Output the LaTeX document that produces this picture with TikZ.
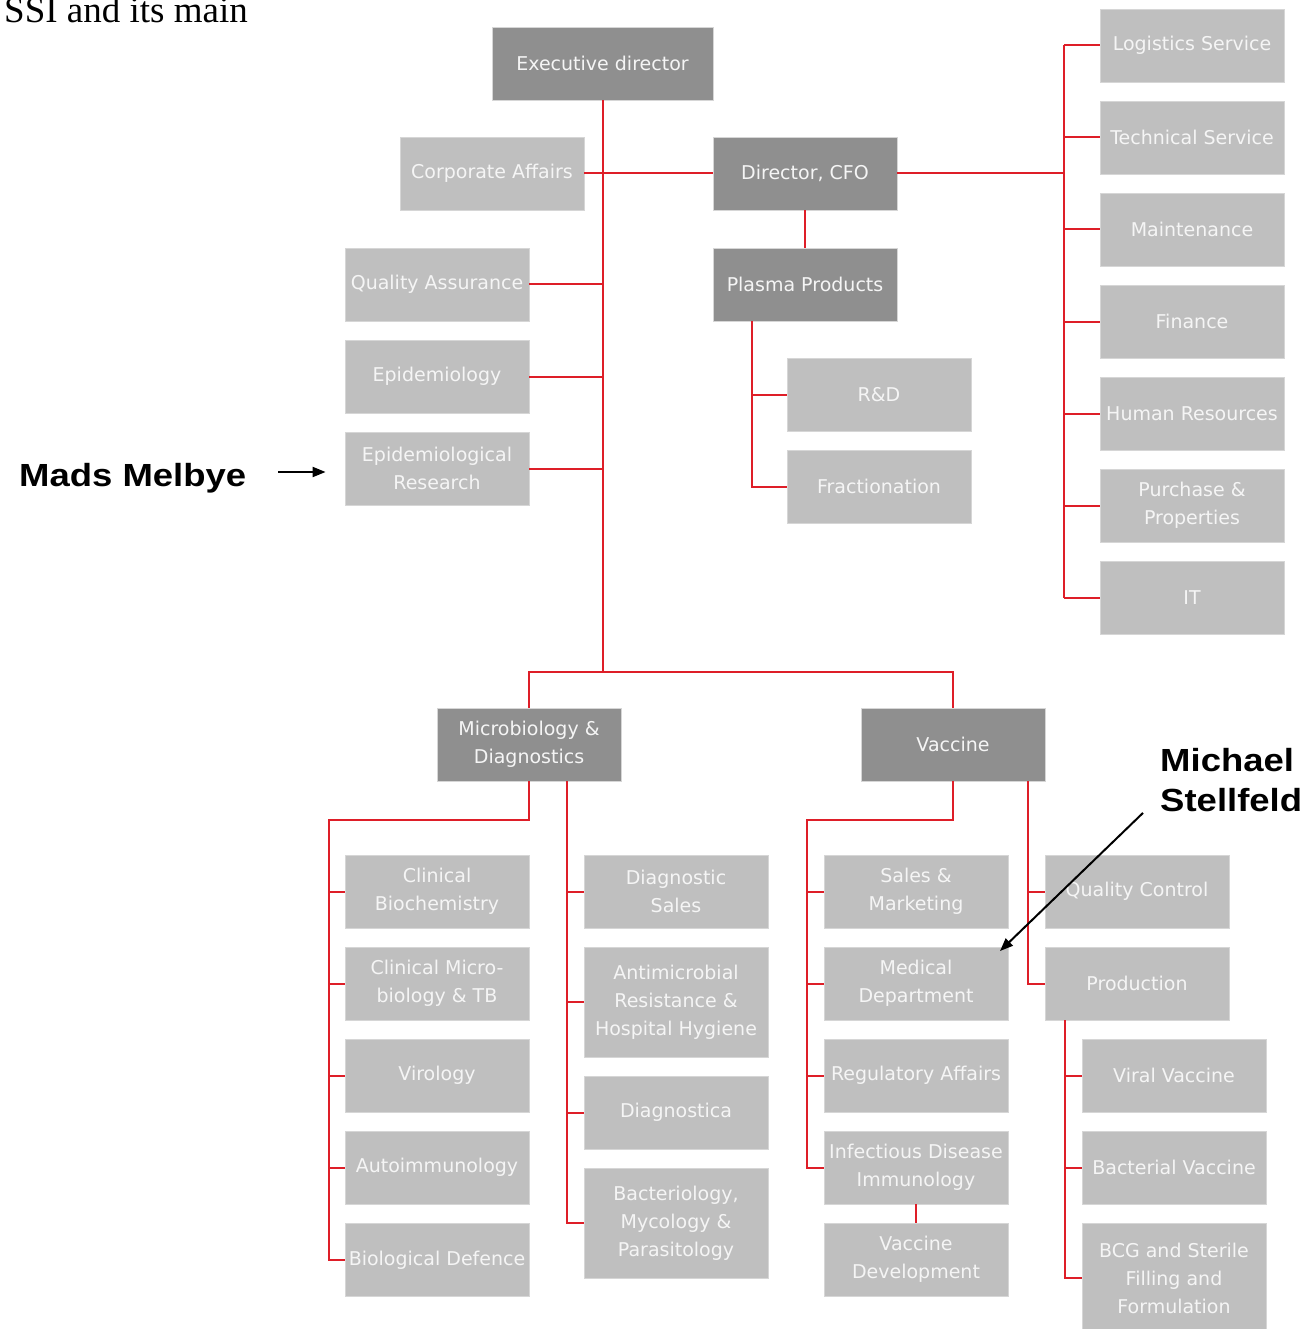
\documentclass[tikz,border=0pt]{standalone}
\usepackage{fontspec}
\setmainfont{Liberation Serif}
\newfontfamily\boxfont{DejaVu Sans}
\newfontfamily\annfont{Liberation Sans}
\usetikzlibrary{arrows.meta}
\definecolor{dk}{HTML}{8F8F8F}
\definecolor{lt}{HTML}{BFBFBF}
\definecolor{edge}{HTML}{D6D6D6}
\definecolor{ln}{HTML}{DE1E28}
\begin{document}
\begin{tikzpicture}[x=1pt,y=-1pt,
  box/.style={minimum width=184pt,minimum height=73pt,inner sep=0pt,align=center,
    text=white!96!black,font=\boxfont\fontsize{19}{28}\selectfont,draw=edge,line width=0.8pt},
  dkbox/.style={box,fill=dk},
  ltbox/.style={box,fill=lt},
  tall/.style={minimum height=110pt},
  conn/.style={draw=ln,line width=2pt},
  ann/.style={font=\annfont\bfseries\fontsize{32}{40}\selectfont,inner sep=0pt,xscale=1.14,align=left},
  pointer/.style={draw=black,line width=2pt,-{Triangle[length=13pt,width=10pt]}}
]
\useasboundingbox (0,0) rectangle (1314,1329);
\fill[white] (0,0) rectangle (1314,1329);

% top section
\node[dkbox,minimum width=221pt] (exec) at (602.5,63.5) {Executive director};
\node[ltbox] (corp) at (492,173.5) {Corporate Affairs};
\node[dkbox] (cfo) at (805,173.5) {Director, CFO};
\node[dkbox] (plasma) at (805,284.5) {Plasma Products};
\node[ltbox] (qa) at (437,284.5) {Quality Assurance};
\node[ltbox] (epi) at (437,376.5) {Epidemiology};
\node[ltbox] (epir) at (437,468.5) {Epidemiological\\Research};
\node[ltbox] (rd) at (879,394.5) {R\&D};
\node[ltbox] (frac) at (879,486.5) {Fractionation};

% right column
\node[ltbox] (log) at (1192,45.5) {Logistics Service};
\node[ltbox] (tech) at (1192,137.5) {Technical Service};
\node[ltbox] (maint) at (1192,229.5) {Maintenance};
\node[ltbox] (fin) at (1192,321.5) {Finance};
\node[ltbox] (hr) at (1192,413.5) {Human Resources};
\node[ltbox] (purch) at (1192,505.5) {Purchase \&\\Properties};
\node[ltbox] (it) at (1192,597.5) {IT};

% lower section
\node[dkbox] (micro) at (529,744.5) {Microbiology \&\\Diagnostics};
\node[dkbox] (vaccine) at (953,744.5) {Vaccine};

\node[ltbox] (cbio) at (437,891.5) {Clinical\\Biochemistry};
\node[ltbox] (cmic) at (437,983.5) {Clinical Micro-\\biology \& TB};
\node[ltbox] (viro) at (437,1075.5) {Virology};
\node[ltbox] (auto) at (437,1167.5) {Autoimmunology};
\node[ltbox] (biod) at (437,1260) {Biological Defence};

\node[ltbox] (dsales) at (676,891.5) {Diagnostic\\Sales};
\node[ltbox,tall] (amr) at (676,1002) {Antimicrobial\\Resistance \&\\Hospital Hygiene};
\node[ltbox] (dgn) at (676,1112.5) {Diagnostica};
\node[ltbox,tall] (bact) at (676,1223) {Bacteriology,\\Mycology \&\\Parasitology};

\node[ltbox] (sm) at (916,891.5) {Sales \&\\Marketing};
\node[ltbox] (med) at (916,983.5) {Medical\\Department};
\node[ltbox] (reg) at (916,1075.5) {Regulatory Affairs};
\node[ltbox] (inf) at (916,1167.5) {Infectious Disease\\Immunology};
\node[ltbox] (vdev) at (916,1259.5) {Vaccine\\Development};

\node[ltbox] (qc) at (1137,891.5) {Quality Control};
\node[ltbox] (prod) at (1137,983.5) {Production};
\node[ltbox] (viral) at (1174,1075.5) {Viral Vaccine};
\node[ltbox] (bvac) at (1174,1167.5) {Bacterial Vaccine};
\node[ltbox,tall] (bcg) at (1174,1278) {BCG and Sterile\\Filling and\\Formulation};

% helper coordinates (bus lines)
\coordinate (bus) at (604,672);
\coordinate (rb) at (1064,0);
\coordinate (pb) at (752,0);
\coordinate (mb) at (329,820);
\coordinate (md) at (567,0);
\coordinate (vb) at (807,820);
\coordinate (vq) at (1028,0);
\coordinate (pv) at (1065,0);

% connectors
\draw[conn] (exec.south) -- (exec.south |- bus);
\draw[conn] (micro.north) |- (bus) -| (vaccine.north);
\draw[conn] (corp.east) -- (cfo.west);
\foreach \b in {qa,epi,epir} \draw[conn] (\b.east) -- (\b.east -| exec.south);
\draw[conn] (cfo.south) -- (plasma.north);
\draw[conn] (cfo.east) -- (cfo.east -| rb);
\draw[conn] (log.west -| rb) -- (it.west -| rb);
\foreach \b in {log,tech,maint,fin,hr,purch,it} \draw[conn] (\b.west) -- (\b.west -| rb);
\draw[conn] (plasma.south -| pb) |- (frac.west);
\draw[conn] (rd.west) -- (rd.west -| pb);

\draw[conn] (micro.south) -- (micro.south |- mb) -- (mb) |- (biod.west);
\foreach \b in {cbio,cmic,viro,auto} \draw[conn] (\b.west) -- (\b.west -| mb);
\draw[conn] (micro.south -| md) |- (bact.west);
\foreach \b in {dsales,amr,dgn} \draw[conn] (\b.west) -- (\b.west -| md);

\draw[conn] (vaccine.south) -- (vaccine.south |- vb) -- (vb) |- (inf.west);
\foreach \b in {sm,med,reg} \draw[conn] (\b.west) -- (\b.west -| vb);
\draw[conn] (vaccine.south -| vq) |- (prod.west);
\draw[conn] (qc.west) -- (qc.west -| vq);
\draw[conn] (inf.south) -- (vdev.north);
\draw[conn] (prod.south -| pv) |- (bcg.west);
\foreach \b in {viral,bvac} \draw[conn] (\b.west) -- (\b.west -| pv);

% annotations
\node[anchor=base west,inner sep=0pt,font=\fontsize{37}{40}\selectfont] (ssi) at (4,23) {SSI and its main};
\node[ann,anchor=base west] (mads) at (19,486) {Mads Melbye};
\coordinate (mt) at (278,472);
\draw[pointer] (mt) -- ([xshift=-19pt]epir.west |- mt);
\node[ann,anchor=north west,font=\annfont\bfseries\fontsize{32}{40}\selectfont] (mich) at (1160,748) {Michael\\Stellfeld};
\coordinate (mtip) at (1000,951);
\draw[pointer] ([xshift=-17pt,yshift=-1pt]mich.south west) -- (mtip);
\end{tikzpicture}
\end{document}
